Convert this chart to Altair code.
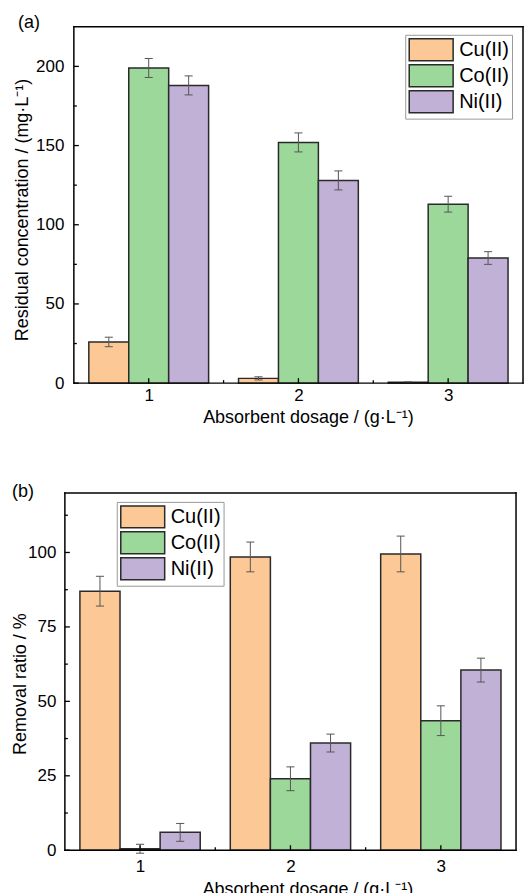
import altair as alt
import pandas as pd

# ---------------- data ----------------
dosage = [1, 2, 3]
metals = ["Cu(II)", "Co(II)", "Ni(II)"]
colors = ["#FCC996", "#9DD89B", "#C1B1D6"]
panel_tags = ["(a)", "(b)"]

# (a) residual concentration, mg/L
res_cu = [26, 3, 0.5]
res_cu_err = [3, 1, 0.3]
res_co = [199, 152, 113]
res_co_err = [6, 6, 5]
res_ni = [188, 128, 79]
res_ni_err = [6, 6, 4]

# (b) removal ratio, %
rem_cu = [87, 98.5, 99.5]
rem_cu_err = [5, 5, 6]
rem_co = [0.5, 24, 43.5]
rem_co_err = [1.5, 4, 5]
rem_ni = [6, 36, 60.5]
rem_ni_err = [3, 3, 4]

res_major = [0, 50, 100, 150, 200]
res_minor = [25, 75, 125, 175]
rem_major = [0, 25, 50, 75, 100]
rem_minor = [12.5, 37.5, 62.5, 87.5, 112.5]
x_major = [1, 2, 3]
x_minor = [1.5, 2.5]
x_frame = [0.5, 3.5]

x_title = "Absorbent dosage / (g·L⁻¹)"
ya_title = "Residual concentration / (mg·L⁻¹)"
yb_title = "Removal ratio / %"

BW = 0.2667     # bar width in x units
CAP = 0.027     # half cap width in x units
FONT = "Liberation Sans"


def panel(vals, errs, ymax, ymajor, yminor, ytitle, tag, W, H, xlo, o):
    rows = []
    for k, m in enumerate(metals):
        for i, d in enumerate(dosage):
            rows.append(dict(dosage=d, k=k, metal=m, value=vals[k][i], err=errs[k][i]))
    df = pd.DataFrame(rows)
    xs = alt.Scale(domain=[xlo, x_frame[1]], nice=False, zero=False)
    ys = alt.Scale(domain=[0, ymax], nice=False, zero=False)
    xppu = W / (x_frame[1] - xlo)       # px per x unit
    yppu = H / ymax                     # px per y unit

    xaxis = alt.Axis(
        values=x_major, format="d", ticks=False, domain=False, grid=False,
        labelFontSize=17, labelPadding=o["xlp"], labelColor="black",
        title=x_title, titleFontSize=18, titleFontWeight="normal", titleColor="black",
        titlePadding=o["xtp"], titleX=o["xtx"])
    yaxis = alt.Axis(
        values=ymajor, ticks=False, domain=False, grid=False,
        labelFontSize=17, labelPadding=o["ylp"], labelColor="black",
        title=ytitle, titleFontSize=18, titleFontWeight="normal", titleColor="black",
        titlePadding=o["ytp"], titleY=o["yty"])

    X = lambda f: alt.X(f, scale=xs, axis=xaxis, title=x_title)
    Y = lambda f: alt.Y(f, scale=ys, axis=yaxis, title=ytitle)

    base = alt.Chart(df).transform_calculate(
        xc=f"datum.dosage + (datum.k - 1) * {BW}",
    ).transform_calculate(
        x0=f"datum.xc - {BW / 2}",
        x1=f"datum.xc + {BW / 2}",
        c0=f"datum.xc - {CAP}",
        c1=f"datum.xc + {CAP}",
        lo="datum.value - datum.err",
        hi="datum.value + datum.err",
        zero="0",
    )

    bars = base.mark_rect(stroke="#2a2a2a", strokeWidth=1.5).encode(
        x=X("x0:Q"), x2="x1:Q",
        y=Y("value:Q"), y2="zero:Q",
        color=alt.Color("metal:N", scale=alt.Scale(domain=metals, range=colors),
                        legend=alt.Legend(
                            title=None, orient="none", legendX=o["lx"], legendY=o["ly"],
                            symbolType="M-2,-1H2V1H-2Z", symbolSize=484,
                            symbolStrokeColor="#2a2a2a", symbolStrokeWidth=1.5,
                            symbolOpacity=1, symbolOffset=11,
                            labelFontSize=20, labelColor="black", labelOffset=16,
                            rowPadding=-7, padding=3, strokeColor="#9a9a9a",
                            fillColor="white")),
    )

    err = base.mark_rule(color="#555555", strokeWidth=1).encode(
        x=X("xc:Q"), y=Y("lo:Q"), y2="hi:Q")
    cap_hi = base.mark_rule(color="#555555", strokeWidth=1).encode(
        x=X("c0:Q"), x2="c1:Q", y=Y("hi:Q"))
    cap_lo = base.mark_rule(color="#555555", strokeWidth=1).encode(
        x=X("c0:Q"), x2="c1:Q", y=Y("lo:Q"))

    def yticks(vals_, ln):
        return alt.Chart(pd.DataFrame({"v": vals_})).mark_rule(
            color="black", strokeWidth=1.3).encode(
            y=Y("v:Q"), x=alt.datum(x_frame[0]), x2=alt.datum(x_frame[0] + ln / xppu))

    def xticks(vals_, ln):
        return alt.Chart(pd.DataFrame({"v": vals_})).mark_rule(
            color="black", strokeWidth=1.3).encode(
            x=X("v:Q"), y=alt.datum(0), y2=alt.datum(ln / yppu))

    fdf = pd.DataFrame({"x": x_frame})
    frame_v = alt.Chart(fdf).mark_rule(color="black", strokeWidth=1.5, strokeCap="square").encode(
        x=X("x:Q"), y=alt.datum(0), y2=alt.datum(ymax))
    frame_h = alt.Chart(pd.DataFrame({"y": [0, ymax]})).mark_rule(
        color="black", strokeWidth=1.5, strokeCap="square").encode(
        y=Y("y:Q"), x=alt.datum(x_frame[0]), x2=alt.datum(x_frame[1]))

    label = alt.Chart(pd.DataFrame({"t": [tag]})).mark_text(
        align="left", baseline="middle", fontSize=18, color="black", font=FONT
    ).encode(text="t:N", x=alt.value(o["tx"]), y=alt.value(o["ty"]))

    return alt.layer(
        bars, err, cap_hi, cap_lo,
        yticks(ymajor, 5), yticks(yminor, 3), xticks(x_major, 5), xticks(x_minor, 3),
        frame_v, frame_h, label,
    ).properties(width=W, height=H)


# panel (a) plot spans 9 px more to the left than its frame (shared left origin)
pa = panel([res_cu, res_co, res_ni], [res_cu_err, res_co_err, res_ni_err],
           225, res_major, res_minor, ya_title, panel_tags[0], 459, 357, 0.44,
           dict(xlp=4, xtp=5, xtx=243.5, ylp=1, ytp=4, yty=183, lx=341, ly=8, tx=-47, ty=-4))
pb = panel([rem_cu, rem_co, rem_ni], [rem_cu_err, rem_co_err, rem_ni_err],
           120, rem_major, rem_minor, yb_title, panel_tags[1], 452, 358, 0.5,
           dict(xlp=8, xtp=6, xtx=243, ylp=9, ytp=-2, yty=191, lx=52, ly=9, tx=-53, ty=-1))

chart = alt.vconcat(pa, pb, spacing=57).resolve_scale(
    color="independent").resolve_legend(color="independent").configure(
    font=FONT, padding={"left": 11, "top": 13, "right": 2, "bottom": 0},
).configure_view(strokeWidth=0)

chart.save("out.html", embed_options={"renderer": "svg", "actions": False})
